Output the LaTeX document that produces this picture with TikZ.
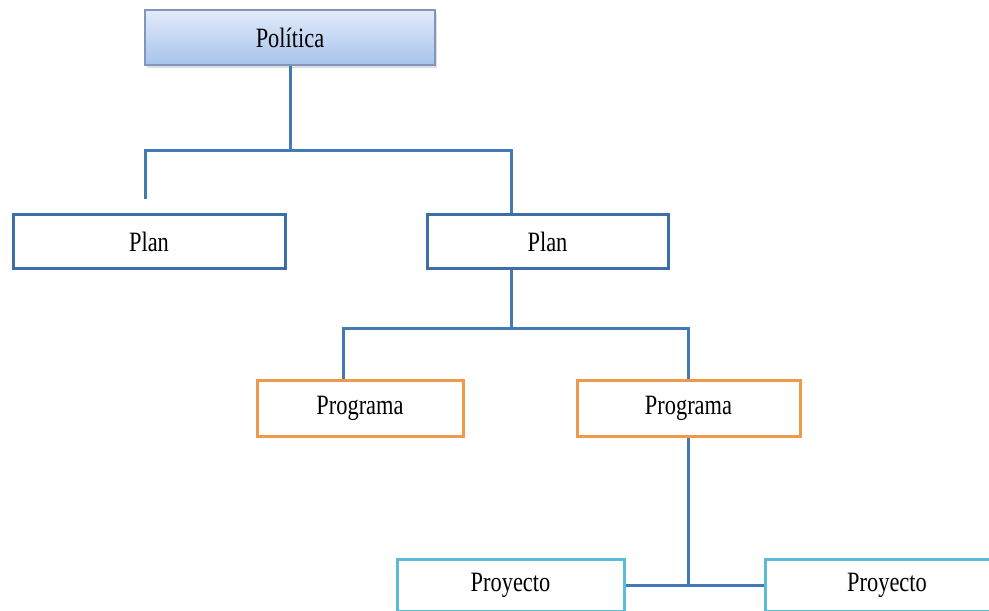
\documentclass[tikz,border=0pt]{standalone}
\usepackage{fontspec}
\setmainfont{Liberation Serif}[FakeStretch=0.8]
\usetikzlibrary{shadows}
\definecolor{connc}{HTML}{4379B4}
\definecolor{planc}{HTML}{3D6EAA}
\definecolor{progc}{HTML}{EE9A4A}
\definecolor{proyc}{HTML}{5CBCD8}
\definecolor{polc}{HTML}{8296BA}
\definecolor{poltop}{HTML}{E2EBFA}
\definecolor{polbot}{HTML}{A7C3EC}
\tikzset{
  box/.style={rectangle, line width=3pt, fill=white, inner sep=0pt, font=\fontsize{28}{30}\selectfont},
  polbox/.style={box, draw=polc, line width=1.5pt, top color=poltop, bottom color=polbot,
    drop shadow={shadow xshift=2pt, shadow yshift=-3pt, opacity=0.25}},
  planbox/.style={box, draw=planc},
  progbox/.style={box, draw=progc},
  proybox/.style={box, draw=proyc},
  conn/.style={draw=connc, line width=3pt}
}
\begin{document}
\begin{tikzpicture}[x=1pt, y=-1pt]
\useasboundingbox (0,0) rectangle (989,611);
\clip (0,0) rectangle (989,611);
\fill[white] (0,0) rectangle (989,611);
\node[polbox, minimum width=290pt, minimum height=55pt] (pol) at (290,37.5) {Política};
\node[planbox, minimum width=272pt, minimum height=54pt] (plan1) at (149,241.5) {Plan};
\node[planbox, minimum width=241pt, minimum height=54pt] (plan2) at (547.5,241.5) {Plan};
\node[progbox, minimum width=206pt, minimum height=56pt] (prog1) at (360,408) {Programa};
\node[progbox, minimum width=223pt, minimum height=56pt] (prog2) at (688.5,408) {Programa};
\node[proybox, minimum width=227pt, minimum height=52pt] (proy1) at (510.5,585) {Proyecto};
\node[proybox, minimum width=244pt, minimum height=52pt] (proy2) at (887,585) {Proyecto};
\coordinate (b1) at (145,150);
\coordinate (b2) at (511,150);
\coordinate (a1) at (145,199);
\coordinate (c1) at (343,328);
\coordinate (c2) at (688,328);
\draw[conn] (pol.south) -- (pol.south |- b1);
\draw[conn] (a1) -- (b1) -- (b2) -- (b2 |- plan2.north);
\draw[conn] (b2 |- plan2.south) -- (b2 |- c1);
\draw[conn] (c1 |- prog1.north) -- (c1) -- (c2) -- (c2 |- prog2.north);
\draw[conn] (prog2.south) -- (prog2.south |- proy1.east);
\draw[conn] (proy1.east) -- (proy2.west);
\end{tikzpicture}
\end{document}
